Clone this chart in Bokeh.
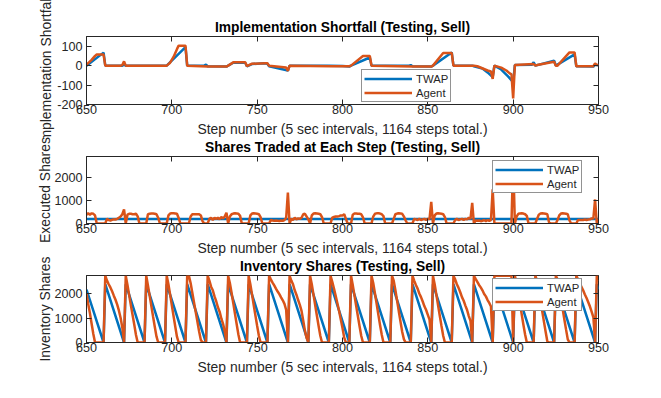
from bokeh.plotting import figure
from bokeh.layouts import column
from bokeh.models import LinearAxis, Range1d, FixedTicker, Legend, LegendItem
from bokeh.embed import file_html
from bokeh.resources import INLINE

BLUE = "#0072BD"
ORANGE = "#D95319"
FONT = "Liberation Sans"
GRAY = "#262626"

x_ticks = [650, 700, 750, 800, 850, 900, 950]
x_label = "Step number (5 sec intervals, 1164 steps total.)"
steps = list(range(650, 951))

# ---- Panel 1: implementation shortfall (vertices)
is_twap_x = [650, 660, 661, 671, 672, 673, 697, 708, 709, 719, 720, 721, 732, 733, 736, 743, 744, 747, 754,
             756, 757, 768, 769, 792, 800, 804, 805, 816, 817, 839, 840, 841, 852, 853, 864, 865, 876, 877,
             882, 885, 888, 889, 893, 897, 900, 901, 911, 912, 913, 924, 925, 936, 937, 947, 948, 950]
is_twap_y = [0, 67, 0, 0, 5, 0, 0, 95, 0, 0, 5, -3, -5, 0, 15, 15, -3, 8, 12,
             10, -3, -25, 0, 0, -2, -5, 0, 42, 0, 0, 3, -3, -5, 0, 68, 0, 0, -3,
             -15, -35, -59, 0, -20, -55, -85, 3, 5, 17, 0, 25, 0, 58, -3, -5, 5, 2]
is_agent_x = [650, 653, 655, 656, 660, 661, 670, 671, 672, 673, 697, 699, 701, 703, 704, 708, 709, 721, 732,
              733, 736, 743, 744, 747, 755, 756, 757, 767, 768, 769, 793, 804, 805, 812, 816, 817, 841, 852,
              853, 859, 864, 865, 877, 879, 885, 887, 888, 889, 893, 896, 898, 899, 900, 901, 912, 913, 914,
              924, 925, 926, 933, 936, 937, 947, 948, 949, 950]
is_agent_y = [5, 30, 50, 57, 57, 0, 0, 3, 22, 0, 0, 15, 45, 85, 103, 103, 0, -5, -5,
              0, 17, 17, -3, 10, 12, 12, 0, -10, -27, 0, -3, -3, 0, 50, 50, 0, -5, -5,
              0, 65, 65, 0, 0, -3, -25, -30, -68, 0, -10, -25, -40, -45, -169, 3, 8, 0, 3,
              20, 0, 0, 68, 68, -3, -3, 12, 3, 3]

# ---- Panel 2: shares traded at each step (one value per step 650..950)
tr_twap_x = [650, 950]
tr_twap_y = [200, 200]
tr_agent = [
    380, 440, 380, 440, 420, 350, 0, 0, 0, 0, 0,                # 650-660
    0, 200, 150, 130, 160, 180, 170, 200, 250, 300, 400, 610,   # 661-672
    0, 380, 420, 420, 400, 400, 420, 310, 0, 0, 0, 0,           # 673-684
    0, 400, 420, 430, 430, 420, 400, 250, 0, 0, 0, 0,           # 685-696
    0, 350, 430, 440, 440, 430, 420, 240, 0, 0, 0, 0,           # 697-708
    0, 0, 300, 400, 400, 400, 400, 400, 350, 100, 0, 0,         # 709-720
    0, 200, 250, 150, 250, 200, 250, 180, 280, 220, 300, 470,   # 721-732
    0, 300, 400, 430, 440, 430, 420, 330, 0, 0, 0, 0,           # 733-744
    0, 350, 430, 440, 430, 420, 400, 280, 0, 0, 0, 0,           # 745-756
    0, 150, 130, 120, 130, 120, 110, 130, 120, 150, 250, 1340,  # 757-768
    0, 200, 150, 250, 180, 220, 200, 250, 400, 420, 300, 180,   # 769-780
    0, 350, 430, 440, 430, 420, 400, 280, 0, 0, 0, 0,           # 781-792
    0, 250, 280, 300, 300, 320, 350, 350, 400, 200, 0, 0,       # 793-804
    0, 380, 430, 430, 420, 420, 400, 270, 0, 0, 0, 0,           # 805-816
    0, 300, 420, 440, 440, 430, 400, 320, 0, 0, 0, 0,           # 817-828
    0, 200, 400, 430, 440, 430, 420, 300, 130, 0, 0, 0,         # 829-840
    0, 200, 180, 150, 200, 150, 180, 200, 150, 200, 200, 940,   # 841-852
    0, 350, 430, 440, 430, 420, 400, 280, 0, 0, 0, 0,           # 853-864
    0, 150, 200, 150, 180, 200, 150, 200, 180, 250, 200, 890,   # 865-876
    0, 130, 120, 130, 100, 120, 150, 100, 150, 120, 150, 1480,  # 877-888
    0, 0, 0, 0, 0, 0, 0, 0, 0, 0, 0, 2750,                      # 889-900
    0, 300, 420, 430, 440, 430, 400, 330, 0, 0, 0, 0,           # 901-912
    0, 200, 380, 430, 440, 430, 420, 400, 50, 0, 0, 0,          # 913-924
    0, 150, 350, 430, 440, 430, 420, 400, 130, 0, 0, 0,         # 925-936
    0, 150, 150, 150, 150, 170, 150, 170, 180, 220, 220, 1040,  # 937-948
    0, 200,                                                     # 949-950
]

# ---- Panel 3: inventory shares
inv_twap_x = [650, 660, 661, 672, 673, 684, 685, 696, 697, 708, 709, 720, 721, 732, 733, 744, 745, 756,
              757, 768, 769, 780, 781, 792, 793, 804, 805, 816, 817, 828, 829, 840, 841, 852, 853, 864,
              865, 876, 877, 888, 889, 900, 901, 912, 913, 924, 925, 936, 937, 948, 949, 950]
inv_twap_y = [2182, 0, 2400, 0, 2400, 0, 2400, 0, 2400, 0, 2400, 0, 2400, 0, 2400, 0, 2400, 0,
              2400, 0, 2400, 0, 2400, 0, 2400, 0, 2400, 0, 2400, 0, 2400, 0, 2400, 0, 2400, 0,
              2400, 0, 2400, 0, 2400, 0, 2400, 0, 2400, 0, 2400, 0, 2400, 0, 2400, 2182]
inv_agent = [
    2030, 1590, 1210, 770, 350, 0, 0, 0, 0, 0, 0,                          # 650-660
    2750, 2550, 2400, 2270, 2110, 1930, 1760, 1560, 1310, 1010, 610, 0,    # 661-672
    2750, 2370, 1950, 1530, 1130, 730, 310, 0, 0, 0, 0, 0,                 # 673-684
    2750, 2350, 1930, 1500, 1070, 650, 250, 0, 0, 0, 0, 0,                 # 685-696
    2750, 2400, 1970, 1530, 1090, 660, 240, 0, 0, 0, 0, 0,                 # 697-708
    2750, 2750, 2450, 2050, 1650, 1250, 850, 450, 100, 0, 0, 0,            # 709-720
    2750, 2550, 2300, 2150, 1900, 1700, 1450, 1270, 990, 770, 470, 0,      # 721-732
    2750, 2450, 2050, 1620, 1180, 750, 330, 0, 0, 0, 0, 0,                 # 733-744
    2750, 2400, 1970, 1530, 1100, 680, 280, 0, 0, 0, 0, 0,                 # 745-756
    2750, 2600, 2470, 2350, 2220, 2100, 1990, 1860, 1740, 1590, 1340, 0,   # 757-768
    2750, 2550, 2400, 2150, 1970, 1750, 1550, 1300, 900, 480, 180, 0,      # 769-780
    2750, 2400, 1970, 1530, 1100, 680, 280, 0, 0, 0, 0, 0,                 # 781-792
    2750, 2500, 2220, 1920, 1620, 1300, 950, 600, 200, 0, 0, 0,            # 793-804
    2750, 2370, 1940, 1510, 1090, 670, 270, 0, 0, 0, 0, 0,                 # 805-816
    2750, 2450, 2030, 1590, 1150, 720, 320, 0, 0, 0, 0, 0,                 # 817-828
    2750, 2550, 2150, 1720, 1280, 850, 430, 130, 0, 0, 0, 0,               # 829-840
    2750, 2550, 2370, 2220, 2020, 1870, 1690, 1490, 1340, 1140, 940, 0,    # 841-852
    2750, 2400, 1970, 1530, 1100, 680, 280, 0, 0, 0, 0, 0,                 # 853-864
    2750, 2600, 2400, 2250, 2070, 1870, 1720, 1520, 1340, 1090, 890, 0,    # 865-876
    2750, 2620, 2500, 2370, 2270, 2150, 2000, 1900, 1750, 1630, 1480, 0,   # 877-888
    2750, 2750, 2750, 2750, 2750, 2750, 2750, 2750, 2750, 2750, 2750, 0,   # 889-900
    2750, 2450, 2030, 1600, 1160, 730, 330, 0, 0, 0, 0, 0,                 # 901-912
    2750, 2550, 2170, 1740, 1300, 870, 450, 50, 0, 0, 0, 0,                # 913-924
    2750, 2600, 2250, 1820, 1380, 950, 530, 130, 0, 0, 0, 0,               # 925-936
    2750, 2600, 2450, 2300, 2150, 1980, 1830, 1660, 1480, 1260, 1040, 0,   # 937-948
    2750, 2550,                                                            # 949-950
]


def styled_axis(ax, ticks, show_labels=True):
    ax.ticker = FixedTicker(ticks=ticks)
    ax.major_tick_in = 5
    ax.major_tick_out = 0
    ax.minor_tick_line_color = None
    ax.axis_line_color = GRAY
    ax.major_tick_line_color = GRAY
    ax.major_label_text_font = FONT
    ax.major_label_text_color = GRAY
    ax.axis_label_text_font = FONT
    ax.axis_label_text_font_style = "normal"
    ax.axis_label_text_color = GRAY
    ax.axis_label_text_font_size = "13.9px"
    if show_labels:
        ax.major_label_text_font_size = "12.6px"
    else:
        ax.major_label_text_font_size = "1px"
        ax.major_label_text_color = None
        ax.major_label_standoff = 0
        ax.axis_line_color = None


def make_panel(title, ylabel, yr, yticks, top, fh, bottom, ylab_standoff,
               xs_b, ys_b, xs_o, ys_o, loc, margin_top):
    p = figure(width=655, height=top + fh + bottom,
               x_range=Range1d(650, 950), y_range=Range1d(*yr),
               output_backend="svg", toolbar_location=None,
               min_border_left=86, min_border_right=57,
               min_border_top=top, min_border_bottom=bottom,
               background_fill_color="white", border_fill_color="white",
               border_fill_alpha=0, margin=(margin_top, 0, 0, 0))
    p.grid.visible = False
    p.outline_line_color = GRAY
    p.outline_line_width = 1
    p.outline_line_alpha = 1
    styled_axis(p.xaxis[0], x_ticks)
    styled_axis(p.yaxis[0], yticks)
    p.xaxis.major_label_standoff = 0
    p.yaxis.major_label_standoff = 4
    p.yaxis.major_label_overrides = {t: str(t) for t in yticks}
    p.xaxis.axis_label = x_label
    p.xaxis.axis_label_standoff = 4
    p.yaxis.axis_label = ylabel
    p.yaxis.axis_label_standoff = ylab_standoff
    top_ax = LinearAxis()
    styled_axis(top_ax, x_ticks, False)
    p.add_layout(top_ax, "above")
    right_ax = LinearAxis()
    styled_axis(right_ax, yticks, False)
    p.add_layout(right_ax, "right")

    p.title.text = title
    p.title.text_font = FONT
    p.title.text_font_size = "13.8px"
    p.title.text_font_style = "bold"
    p.title.text_color = "#000000"
    p.title.align = "center"
    p.title.standoff = 3

    r1 = p.line(xs_b, ys_b, line_color=BLUE, line_width=2.5)
    r2 = p.line(xs_o, ys_o, line_color=ORANGE, line_width=2.5)
    leg = Legend(items=[LegendItem(label="TWAP", renderers=[r1]),
                        LegendItem(label="Agent", renderers=[r2])],
                 location=loc, orientation="vertical",
                 label_text_font=FONT, label_text_font_size="11.3px", label_text_color=GRAY,
                 glyph_width=48, glyph_height=13, label_height=13, label_standoff=4,
                 spacing=1, padding=2, margin=0,
                 border_line_color=GRAY, border_line_width=1,
                 background_fill_color="white", background_fill_alpha=1)
    p.add_layout(leg)
    return p


p1 = make_panel("Implementation Shortfall (Testing, Sell)", "Implementation Shortfall",
                (-200, 150), [-200, -100, 0, 100], 36, 69, 34, 0,
                is_twap_x, is_twap_y, is_agent_x, is_agent_y, (275, 2), 0)
p2 = make_panel("Shares Traded at Each Step (Testing, Sell)", "Executed Shares",
                (0, 2900), [0, 1000, 2000], 21, 68, 34, -2,
                tr_twap_x, tr_twap_y, steps, tr_agent, (406, 30), -4)
p3 = make_panel("Inventory Shares (Testing, Sell)", "Inventory Shares",
                (0, 2760), [0, 1000, 2000], 21, 68, 34, -2,
                inv_twap_x, inv_twap_y, steps, inv_agent, (406, 31), -4)

layout = column(p1, p2, p3, spacing=0)
open("out.html", "w").write(file_html(layout, INLINE))
